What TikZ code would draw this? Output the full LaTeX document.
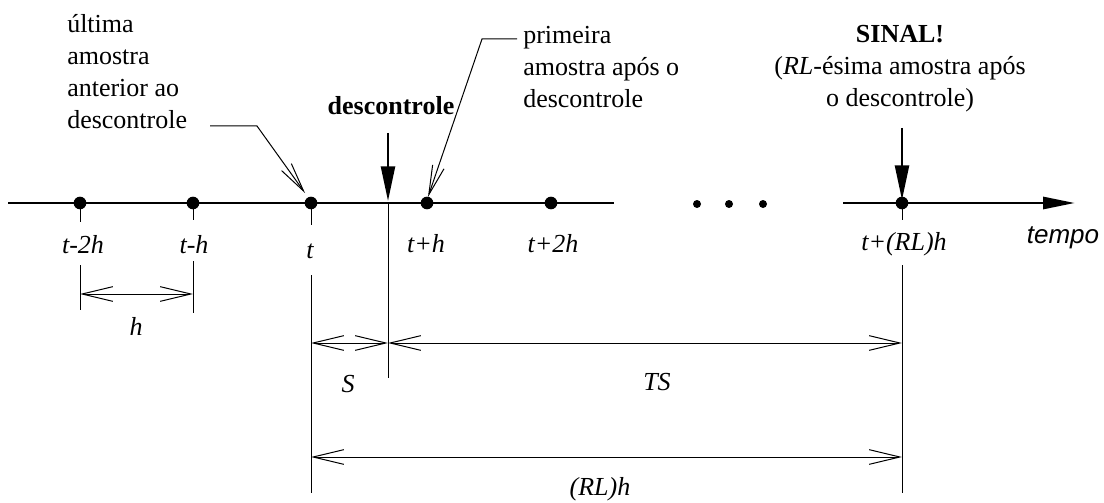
\documentclass[tikz,border=0pt]{standalone}
\usepackage{fontspec}
\setmainfont{Liberation Serif}
\setsansfont{Liberation Sans}
\usetikzlibrary{arrows.meta}
\begin{document}
\begin{tikzpicture}[x=0.75pt,y=-0.75pt,
  txt/.style={font=\fontsize{19.5}{24}\selectfont, inner sep=0pt},
  lbl/.style={inner sep=0pt, font=\fontsize{19.5}{24}\selectfont\itshape, anchor=base},
  dot/.style={circle, fill=black, inner sep=0pt, minimum size=9.5pt},
  sdot/.style={circle, fill=black, inner sep=0pt, minimum size=6pt},
  axis/.style={line width=2.2pt},
  thinline/.style={line width=0.75pt},
  dim/.style={thinline, {Straight Barb[length=23pt,width=11pt]}-{Straight Barb[length=23pt,width=11pt]}},
  leader/.style={thinline, -{Straight Barb[length=22pt,width=9pt]}},
  bigarrow/.style={line width=1.8pt, -{Triangle[length=26pt,width=10.5pt]}}
]
\useasboundingbox (0,0) rectangle (1104,503);

% axis
\coordinate (a0) at (8,203);
\coordinate (a1) at (614,203);
\coordinate (b0) at (843,203);
\coordinate (b1) at (1075,203);
\draw[axis] (a0) -- (a1);
\draw[axis, -{Triangle[length=24pt,width=9pt]}] (b0) -- (b1);

% sample points
\node[dot] (p1) at (80,203) {};
\node[dot] (p2) at (193,203) {};
\node[dot] (p3) at (311,203) {};
\node[dot] (p4) at (427,203) {};
\node[dot] (p5) at (551,203) {};
\node[dot] (p6) at (902,203) {};

% ellipsis
\node[sdot] (e1) at (697,204) {};
\node[sdot] (e2) at (729,204) {};
\node[sdot] (e3) at (763,204) {};

% ticks
\coordinate (k1) at (80,222);
\coordinate (k2) at (193,220);
\coordinate (k3) at (311,225);
\coordinate (k6) at (902,220);
\draw[thinline] (p1.center) -- (k1);
\draw[thinline] (p2.center) -- (k2);
\draw[thinline] (p3.center) -- (k3);
\draw[thinline] (p6.center) -- (k6);

% labels under axis
\node[lbl] (l1) at (83,253) {t-2h};
\node[lbl] (l2) at (194,253) {t-h};
\node[lbl] (l3) at (310,258) {t};
\node[lbl] (l4) at (426,252) {t+h};
\node[lbl] (l5) at (553,252) {t+2h};
\node[lbl] (l6) at (904,250) {t+(RL)h};
\node[inner sep=0pt, font=\fontsize{19.5}{24}\selectfont\sffamily\itshape, anchor=base] (tempo) at (1063,243) {tempo};

% descontrole arrow and line
\node[txt, font=\fontsize{19.5}{24}\selectfont\bfseries, anchor=base] (desc) at (391,115) {descontrole};
\coordinate (d0) at (388,133);
\coordinate (d1) at (388,201);
\coordinate (d2) at (388,203);
\coordinate (d3) at (388,378);
\draw[bigarrow] (d0) -- (d1);
\draw[thinline] (d2) -- (d3);

% SINAL arrow
\node[txt, align=center, anchor=base] (sinal) at (900,107) {\textbf{SINAL!}\\(\textit{RL}-ésima amostra após\\o descontrole)};
\coordinate (s0) at (902,128);
\coordinate (s1) at (902,200);
\draw[bigarrow] (s0) -- (s1);

% leader: ultima amostra
\node[txt, align=left, anchor=base west] (ult) at (67,128) {última\\amostra\\anterior ao\\descontrole};
\coordinate (u0) at (210,126);
\coordinate (u1) at (257,126);
\coordinate (u2) at (305,193);
\draw[leader] (u0) -- (u1) -- (u2);

% leader: primeira amostra
\node[txt, align=left, anchor=base west] (prim) at (523,108) {primeira\\amostra após o\\descontrole};
\coordinate (q0) at (517,39);
\coordinate (q1) at (482,39);
\coordinate (q2) at (428,197);
\draw[leader] (q0) -- (q1) -- (q2);

% extension lines
\coordinate (h1a) at (80,265);  \coordinate (h1b) at (80,310);
\coordinate (h2a) at (193,261); \coordinate (h2b) at (193,313);
\coordinate (ta) at (311,275);  \coordinate (tb) at (311,493);
\coordinate (ra) at (902,265);  \coordinate (rb) at (902,493);
\draw[thinline] (h1a) -- (h1b);
\draw[thinline] (h2a) -- (h2b);
\draw[thinline] (ta) -- (tb);
\draw[thinline] (ra) -- (rb);

% dimensions
\coordinate (hd1) at (80,294);  \coordinate (hd2) at (193,294);
\coordinate (sd1) at (311,343); \coordinate (sd2) at (388,343);
\coordinate (td1) at (388,343); \coordinate (td2) at (902,343);
\coordinate (rd1) at (311,457); \coordinate (rd2) at (902,457);
\draw[dim] (hd1) -- (hd2);
\draw[dim] (sd1) -- (sd2);
\draw[dim] (td1) -- (td2);
\draw[dim] (rd1) -- (rd2);

\node[lbl] (hl) at (136,335) {h};
\node[lbl] (sl) at (348,392) {S};
\node[lbl] (tsl) at (657,390) {TS};
\node[lbl] (rlh) at (600,495) {(RL)h};
\end{tikzpicture}
\end{document}
